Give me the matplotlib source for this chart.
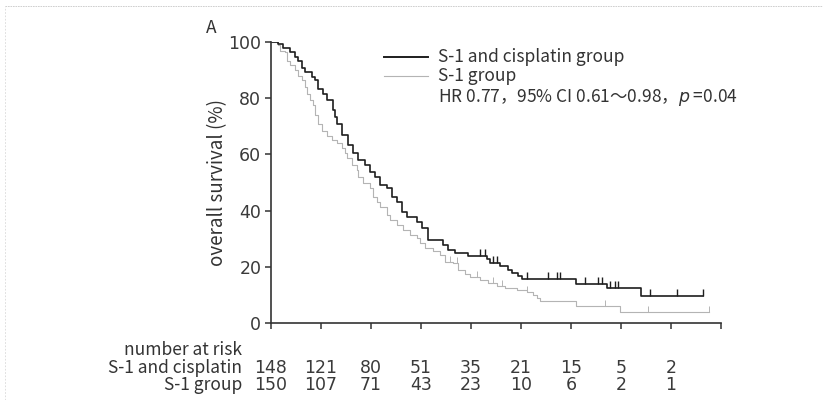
import numpy as np
import matplotlib
matplotlib.use("Agg")
import matplotlib.pyplot as plt
import matplotlib.transforms as mtransforms

plt.rcParams['font.family'] = ['Noto Sans CJK JP', 'DejaVu Sans']

# ---- data (x in tick intervals, y in % survival) ----
t_cis = [0, 0.14, 0.24, 0.38, 0.48, 0.54, 0.62, 0.68, 0.82, 0.88,
         0.94, 1.04, 1.12, 1.24, 1.28, 1.32, 1.42, 1.54, 1.64, 1.74,
         1.88, 1.98, 2.08, 2.18, 2.32, 2.42, 2.52, 2.62, 2.72, 2.92,
         3.02, 3.14, 3.44, 3.54, 3.68, 3.94, 4.32, 4.38, 4.58, 4.74,
         4.82, 4.94, 5.02, 6.10, 6.72, 7.40, 8.64]
s_cis = [100, 99.3, 98, 96.4, 94.6, 93.5, 91, 89.3, 87.5, 86.4,
         83.2, 81.4, 79.6, 76, 73.2, 70.7, 67, 63.5, 60.6, 58,
         56.4, 53.8, 52, 49.2, 48, 45, 43, 39.5, 37.7, 36,
         33.8, 29.5, 27.7, 26, 24.8, 23.8, 22.7, 21.4, 20.3, 18.8,
         17.7, 16.6, 15.5, 13.9, 12.2, 9.6, 9.6]
cens_cis = [4.18, 4.28, 4.44, 4.52, 5.12, 5.54, 5.72, 5.78, 6.28, 6.54,
            6.62, 6.78, 6.88, 6.94, 7.58, 8.12, 8.64]

t_s1 = [0, 0.14, 0.18, 0.28, 0.32, 0.38, 0.48, 0.54, 0.62, 0.68,
        0.72, 0.78, 0.84, 0.88, 0.94, 1.02, 1.12, 1.22, 1.32, 1.42,
        1.48, 1.52, 1.62, 1.72, 1.74, 1.84, 1.98, 2.04, 2.12, 2.18,
        2.32, 2.38, 2.52, 2.64, 2.78, 2.92, 2.98, 3.08, 3.24, 3.38,
        3.48, 3.64, 3.74, 3.88, 3.98, 4.18, 4.34, 4.52, 4.68, 4.92,
        5.12, 5.24, 5.32, 5.38, 6.10, 6.98, 8.76]
s_s1 = [100, 99, 97, 96.4, 93.5, 91.8, 90, 88, 86.4, 84,
        81.4, 79.6, 77.8, 74.2, 70.7, 68.5, 66.7, 65.3, 64.2, 62.4,
        60.5, 58.9, 56.4, 54.6, 52, 50, 48, 45, 43, 41.4,
        38.5, 36.7, 34.9, 33, 31.3, 30.2, 28.4, 26.6, 25.5, 24.1,
        21.8, 21.3, 18.8, 17.5, 16.3, 15.2, 14.1, 13, 12.3, 11.6,
        10.9, 9.8, 8.8, 7.6, 5.9, 3.9, 3.9]
cens_s1 = [3.58, 3.72, 4.12, 4.44, 4.62, 5.12, 6.68, 7.54, 8.76]

risk_labels = ["S-1 and cisplatin", "S-1 group"]
risk_cis = [148, 121, 80, 51, 35, 21, 15, 5, 2]
risk_s1 = [150, 107, 71, 43, 23, 10, 6, 2, 1]
yticks = [0, 20, 40, 60, 80, 100]

txt = '#333333'
numfont = dict(family='DejaVu Sans', fontsize=12.5, color='#3a3a3a')

def level_at(t, s, c):
    i = np.searchsorted(t, c, side='right') - 1
    return np.array(s)[i]

fig = plt.figure(figsize=(8.23, 4.0), dpi=100)
ax = fig.add_axes([271/823, 1 - 322.7/400, 450/823, 280.4/400])

ax.step(t_s1, s_s1, where='post', color='#b4b4b4', lw=0.8)
ax.step(t_cis, s_cis, where='post', color='#1e1e1e', lw=1.2)
ax.plot(cens_s1, level_at(t_s1, s_s1, cens_s1), linestyle='none',
        marker=2, markersize=4, color='#b4b4b4', mew=0.7)
ax.plot(cens_cis, level_at(t_cis, s_cis, cens_cis), linestyle='none',
        marker=2, markersize=5, color='#1e1e1e', mew=1.0)

ax.set_xlim(0, 9)
ax.set_ylim(0, 100)
ax.set_xticks(range(10))
ax.set_xticklabels([])
ax.set_yticks(yticks)
ax.set_yticklabels([str(v) for v in yticks], **numfont)
ax.tick_params(direction='out', length=4, width=1.1, color='#333333', pad=3)
for sp in ['top', 'right']:
    ax.spines[sp].set_visible(False)
for sp in ['left', 'bottom']:
    ax.spines[sp].set_color('#333333')
    ax.spines[sp].set_linewidth(1.2)
ax.spines['left'].set_bounds(0, 100)

ax.set_ylabel("overall survival (%)", fontsize=13.5, color=txt, labelpad=0)

# panel letter
fig.text(211/823, 1 - 28/400, "A", fontsize=12.5, color=txt, ha='center', va='center')

# legend drawn by hand
for yy, col, lw in [(57, '#1e1e1e', 1.4), (76, '#b4b4b4', 0.8)]:
    fig.add_artist(plt.Line2D([384/823, 428/823], [1 - yy/400, 1 - yy/400],
                              color=col, lw=lw))
fig.text(438/823, 1 - 57/400, "S-1 and cisplatin group", fontsize=12.5,
         color=txt, va='center')
fig.text(438/823, 1 - 76/400, "S-1 group", fontsize=12.5, color=txt, va='center')
fig.text(438/823, 1 - 97/400, "HR 0.77，95% CI 0.61～0.98，$p$ =0.04",
         fontsize=12.5, color=txt, va='center')

# number at risk table
trans = mtransforms.blended_transform_factory(ax.transData, fig.transFigure)
fig.text(242/823, 1 - 350/400, "number at risk", fontsize=12.5, color=txt,
         ha='right', va='center')
for row, (lab, vals) in enumerate(zip(risk_labels, [risk_cis, risk_s1])):
    yy = 1 - (368 + 17.5*row)/400
    fig.text(242/823, yy, lab, fontsize=12.5, color=txt, ha='right', va='center')
    for i, v in enumerate(vals):
        ax.text(i, yy, str(v), transform=trans, ha='center', va='center',
                clip_on=False, **numfont)

# faint scan border
fig.add_artist(plt.Line2D([5/823, 1], [1 - 6/400, 1 - 6/400], color='#c8c8c8',
                          lw=0.6, ls=(0, (2, 1))))
fig.add_artist(plt.Line2D([5/823, 5/823], [0, 1 - 6/400], color='#d8d8d8',
                          lw=0.6, ls=(0, (2, 2))))

fig.savefig("out.png", dpi=100)
